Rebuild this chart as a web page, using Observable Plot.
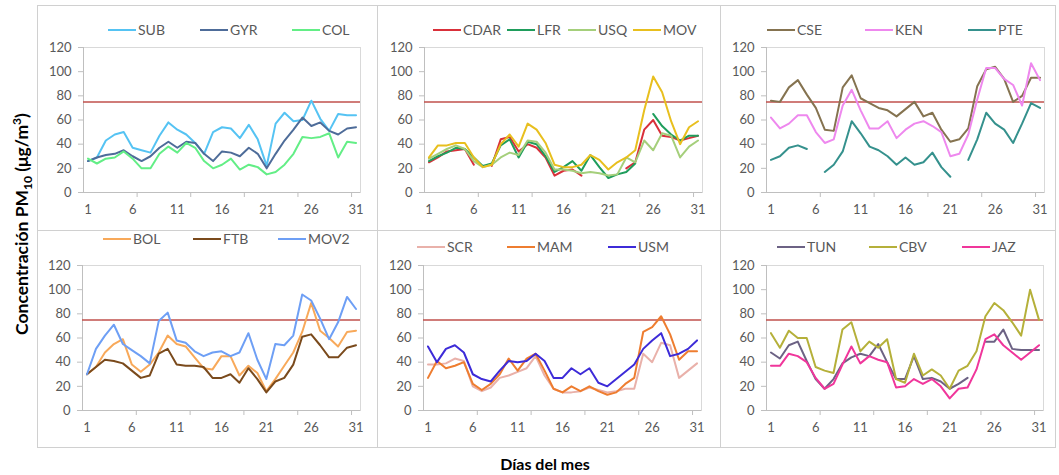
<!DOCTYPE html>
<html>
<head>
<meta charset="utf-8">
<script src="https://cdn.jsdelivr.net/npm/d3@7"></script>
<script src="https://cdn.jsdelivr.net/npm/@observablehq/plot@0.6"></script>
<style>
  html, body { margin: 0; padding: 0; background: #fff; }
  #root { position: relative; width: 1059px; height: 475px; overflow: hidden; font-family: Lato, "Open Sans", sans-serif; }
  .box { position: absolute; border: 1px solid #d0d0d0; box-sizing: border-box; }
  .panel { position: absolute; }
  .leg { position: absolute; display: flex; align-items: center; font-size: 14px; color: #595959; white-space: nowrap; }
  .leg span.ln { display: inline-block; width: 28px; height: 2px; margin-right: 2px; }
  #ylab { position: absolute; left: 22px; top: 224px; transform: translate(-50%, -50%) rotate(-90deg); font-weight: bold; font-size: 17.5px; color: #000; white-space: nowrap; }
  #xlab { position: absolute; left: 545px; top: 463px; transform: translate(-50%, -50%); font-weight: bold; font-size: 16px; color: #000; white-space: nowrap; }
</style>
</head>
<body>
<div id="root"></div>
<script>
// ---------- data ----------
const DAYS = d3.range(1, 32);
const X_LABELS = [1, 6, 11, 16, 21, 26, 31];
const Y_TICKS = [0, 20, 40, 60, 80, 100, 120];
const LIMIT = 75;

const SUB  = [26,29,43,48,50,37,35,33,47,58,52,48,41,32,50,54,53,45,56,44,22,57,66,59,60,76,61,51,65,64,64];
const GYR  = [26,29,31,32,35,30,26,30,37,42,37,42,41,32,26,34,33,30,37,32,20,32,43,52,62,55,58,51,48,53,54];
const COL  = [28,24,28,29,34,28,20,20,32,38,33,41,37,26,20,23,28,19,23,21,15,17,23,32,46,45,46,49,29,42,41];

const CDAR = [25,29,34,35,36,23,null,22,44,46,34,40,37,29,14,18,19,14,null,null,null,null,20,25,52,60,47,46,43,45,47];
const LFR  = [26,30,33,37,36,29,22,24,39,44,29,42,40,30,17,21,26,18,31,21,12,15,17,24,null,65,55,48,43,47,47];
const USQ  = [28,32,36,39,36,26,21,23,29,33,31,43,42,33,19,19,18,16,17,16,14,15,29,25,43,35,49,47,29,38,43];
const MOV  = [29,39,39,41,41,29,21,23,40,48,38,57,52,41,23,21,21,23,31,27,19,25,29,35,68,96,83,59,40,54,59];

const CSE  = [76,75,87,93,81,70,52,51,87,97,78,74,70,68,63,69,75,63,66,52,42,44,53,88,102,104,94,75,80,95,95];
const KEN  = [62,53,57,64,64,50,41,44,72,85,68,53,53,59,45,52,57,59,55,50,30,32,48,77,103,103,94,89,72,107,93];
const PTE  = [27,30,37,39,36,null,17,23,34,59,49,38,35,30,23,29,23,25,33,21,13,null,27,44,66,57,52,41,57,74,70];

const BOL  = [30,36,48,55,59,38,32,38,48,62,55,53,44,35,34,45,45,29,37,31,16,26,37,48,65,89,66,60,53,65,66];
const FTB  = [30,36,42,41,39,33,27,29,47,51,38,37,37,36,27,27,30,23,35,26,15,24,27,38,61,63,54,44,44,52,54];
const MOV2 = [30,51,62,71,55,50,45,39,74,81,58,56,49,45,48,49,45,48,64,42,26,55,54,62,96,91,76,59,73,94,84];

const SCR  = [38,38,39,43,41,20,16,19,27,29,32,35,45,29,18,15,15,16,19,17,15,16,18,18,47,40,56,54,27,33,39];
const MAM  = [27,41,35,37,40,22,17,22,30,43,33,43,47,33,18,15,20,16,20,16,13,15,22,27,65,69,78,63,42,49,49];
const USM  = [53,40,51,54,48,30,26,24,33,41,40,41,47,41,27,27,35,30,35,23,20,26,32,38,51,58,64,45,47,51,58];

const TUN  = [48,43,54,57,41,26,18,26,39,44,47,45,55,40,26,26,45,26,27,24,18,22,27,null,57,57,67,51,50,50,50];
const CBV  = [64,52,66,60,60,36,33,31,67,73,49,57,52,59,26,23,47,29,34,29,18,33,37,49,78,89,83,73,62,100,75];
const JAZ  = [37,37,47,45,40,27,18,22,38,53,39,45,42,40,19,20,26,22,26,20,10,18,19,34,59,63,54,48,42,48,54];

// ---------- styles / layout ----------
const COLORS = {
  SUB:"#55C3F3", GYR:"#4E6C99", COL:"#63EE86",
  CDAR:"#D9303A", LFR:"#1F9D5C", USQ:"#A5CF7B", MOV:"#E8BF1E",
  CSE:"#857350", KEN:"#EE88EE", PTE:"#35918D",
  BOL:"#F8A95A", FTB:"#7A4A1C", MOV2:"#6E9FF5",
  SCR:"#E9B1AA", MAM:"#EE7D30", USM:"#3D2BD8",
  TUN:"#6C6284", CBV:"#B5B03A", JAZ:"#F0369B"
};
const SERIES = {SUB,GYR,COL,CDAR,LFR,USQ,MOV,CSE,KEN,PTE,BOL,FTB,MOV2,SCR,MAM,USM,TUN,CBV,JAZ};

const PANELS = [
  {L:37,  A:83,  R:360,  T:47,  B:192, names:["SUB","GYR","COL"], legY:30, legX:[108,200,292]},
  {L:377, A:424, R:702,  T:47,  B:192, names:["CDAR","LFR","USQ","MOV"], legY:30, legX:[433,507,568,633]},
  {L:720, A:766, R:1044, T:47,  B:192, names:["CSE","KEN","PTE"], legY:30, legX:[767,865,968]},
  {L:37,  A:82,  R:360,  T:265, B:410, names:["BOL","FTB","MOV2"], legY:239, legX:[103,193,278]},
  {L:377, A:423, R:701,  T:265, B:410, names:["SCR","MAM","USM"], legY:247, legX:[417,507,608]},
  {L:720, A:766, R:1043, T:265, B:410, names:["TUN","CBV","JAZ"], legY:247, legX:[777,869,962]}
];
const BOXES = [
  {x:37, y:5, w:341, h:226}, {x:377, y:5, w:344, h:226}, {x:720, y:5, w:336, h:226},
  {x:37, y:230, w:341, h:218}, {x:377, y:230, w:344, h:218}, {x:720, y:230, w:336, h:218}
];

const root = document.getElementById("root");
for (const b of BOXES) {
  const d = document.createElement("div");
  d.className = "box";
  Object.assign(d.style, {left:b.x+"px", top:b.y+"px", width:b.w+"px", height:b.h+"px"});
  root.appendChild(d);
}

for (const p of PANELS) {
  const data = p.names.flatMap(n => DAYS.map((d, i) => ({day: d, value: SERIES[n][i], name: n})));
  const mt = 7, mb = 33, mr = 12;
  const chart = Plot.plot({
    width: p.R - p.L + mr,
    height: p.B - p.T + mt + mb,
    marginLeft: p.A - p.L, marginRight: mr, marginTop: mt, marginBottom: mb,
    x: {domain: [0.5, 31.5]},
    y: {domain: [0, 120]},
    color: {domain: p.names, range: p.names.map(n => COLORS[n])},
    style: {fontFamily: "Lato, 'Open Sans', sans-serif", fontSize: "13px", color: "#595959", background: "transparent", overflow: "visible"},
    marks: [
      Plot.frame({stroke: "#d9d9d9"}),
      Plot.ruleX([0.5], {stroke: "#bfbfbf"}),
      Plot.ruleY([0], {stroke: "#bfbfbf"}),
      Plot.axisY({ticks: Y_TICKS, tickSize: 5, tickPadding: 7, stroke: "#bfbfbf", fill: "#595959", label: null}),
      Plot.axisX({ticks: X_LABELS, tickSize: 0, tickPadding: 12, fill: "#595959", label: null}),
      Plot.axisX({ticks: [6.5, 12.5, 18.5, 24.5, 30.5], tickSize: 5, tickFormat: () => "", stroke: "#bfbfbf", label: null}),
      Plot.ruleY([LIMIT], {stroke: "#C0504D", strokeWidth: 1.5}),
      Plot.lineY(data, {x: "day", y: "value", z: "name", stroke: "name", strokeWidth: 2})
    ]
  });
  chart.classList.add("panel");
  chart.style.left = p.L + "px";
  chart.style.top = (p.T - mt) + "px";
  root.appendChild(chart);

  p.names.forEach((n, i) => {
    const lg = document.createElement("div");
    lg.className = "leg";
    lg.style.left = p.legX[i] + "px";
    lg.style.top = (p.legY - 9) + "px";
    lg.innerHTML = `<span class="ln" style="background:${COLORS[n]}"></span>${n}`;
    root.appendChild(lg);
  });
}

const yl = document.createElement("div");
yl.id = "ylab";
yl.innerHTML = "Concentración PM<sub style='font-size:12px'>10</sub> (μg/m<sup style='font-size:12px'>3</sup>)";
root.appendChild(yl);
const xl = document.createElement("div");
xl.id = "xlab";
xl.textContent = "Días del mes";
root.appendChild(xl);
</script>
</body>
</html>
